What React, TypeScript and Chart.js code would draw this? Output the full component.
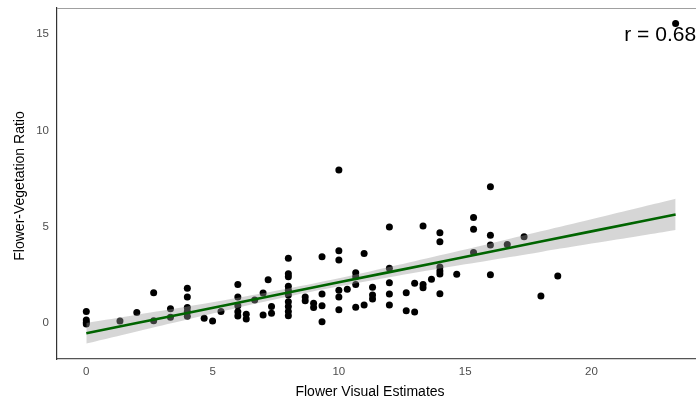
import { useEffect, useRef } from "react";
import { Chart, registerables } from "chart.js";

Chart.register(...registerables);

const flowerEstimates = [
  0, 0, 0, 0,
  1.333, 2, 2.667, 2.667, 3.333, 3.333,
  4, 4, 4, 4, 4,
  4.667, 5, 5.333,
  6, 6, 6, 6, 6,
  6.333, 6.333, 6.667, 7, 7, 7.2, 7.333, 7.333,
  8, 8, 8, 8, 8, 8, 8, 8, 8, 8,
  8.667, 8.667, 9, 9,
  9.333, 9.333, 9.333, 9.333,
  10, 10, 10, 10, 10, 10,
  10.333,
  10.667, 10.667, 10.667, 10.667,
  11, 11,
  11.333, 11.333, 11.333,
  12, 12, 12, 12, 12,
  12.667, 12.667, 13, 13,
  13.333, 13.333, 13.333, 13.667,
  14, 14, 14, 14, 14, 14,
  14.667,
  15.333, 15.333, 15.333,
  16, 16, 16, 16,
  16.667, 17.333, 18, 18.667,
  23.333,
];

const ratios = [
  0.59, 0.16, 0.02, -0.05,
  0.1, 0.55, 1.57, 0.12, 0.74, 0.3,
  1.8, 1.35, 0.8, 0.59, 0.35,
  0.24, 0.1, 0.59,
  2.0, 1.35, 0.9, 0.58, 0.36,
  0.45, 0.2, 1.19, 1.56, 0.41, 2.24, 0.85, 0.5,
  3.36, 2.55, 2.4, 1.9, 1.7, 1.45, 1.1, 0.85, 0.6, 0.38,
  1.35, 1.15, 1.02, 0.8,
  3.44, 1.5, 0.9, 0.07,
  7.94, 3.75, 3.27, 1.7, 1.35, 0.69,
  1.75,
  2.61, 2.4, 2.0, 0.81,
  3.6, 0.93,
  1.85, 1.45, 1.24,
  4.98, 2.84, 2.09, 1.5, 0.93,
  1.57, 0.64, 2.06, 0.57,
  5.03, 2.0, 1.83, 2.27,
  4.68, 4.21, 2.9, 2.7, 2.54, 1.52,
  2.53,
  5.47, 4.86, 3.66,
  7.07, 4.55, 4.05, 2.5,
  4.08, 4.48, 1.4, 2.44,
  15.55,
];

const fitX = [0, 2, 4, 6, 8, 10, 12, 14, 16, 18, 20, 22, 23.333];
const fitY = [-0.535, -0.006, 0.523, 1.052, 1.581, 2.11, 2.639, 3.168, 3.697, 4.226, 4.755, 5.284, 5.636];
const bandLower = [-1.07, -0.44, 0.18, 0.79, 1.37, 1.9, 2.38, 2.83, 3.26, 3.69, 4.12, 4.54, 4.83];
const bandUpper = [0.0, 0.43, 0.86, 1.31, 1.79, 2.32, 2.9, 3.51, 4.13, 4.76, 5.39, 6.02, 6.45];

const xTicks = [0, 5, 10, 15, 20];
const yTicks = [0, 5, 10, 15];

const corrLabel = "r = 0.68";
const corrPos = { x: 21.3, y: 14.95 };
const xTitle = "Flower Visual Estimates";
const yTitle = "Flower-Vegetation Ratio";

const FONT = "'Liberation Sans', Arial, Helvetica, sans-serif";

export default function App() {
  const ref = useRef<HTMLCanvasElement>(null);

  useEffect(() => {
    document.body.style.margin = "0";
    const canvas = ref.current;
    if (!canvas) return;

    const decor = {
      id: "decor",
      afterDraw(chart: any) {
        const { ctx, chartArea: a, scales } = chart;
        ctx.save();
        ctx.strokeStyle = "#a0a0a0";
        ctx.lineWidth = 1.2;
        ctx.beginPath();
        ctx.moveTo(a.left, a.top + 0.5);
        ctx.lineTo(a.right, a.top + 0.5);
        ctx.stroke();

        ctx.fillStyle = "#000";
        ctx.font = `21px ${FONT}`;
        ctx.textAlign = "left";
        ctx.textBaseline = "middle";
        ctx.fillText(corrLabel, scales.x.getPixelForValue(corrPos.x), scales.y.getPixelForValue(corrPos.y));

        ctx.font = `14px ${FONT}`;
        ctx.textAlign = "center";
        ctx.textBaseline = "middle";
        ctx.fillText(xTitle, 370, 392);
        ctx.translate(20, 186);
        ctx.rotate(-Math.PI / 2);
        ctx.fillText(yTitle, 0, 0);
        ctx.restore();
      },
    };

    const zeroPad = (s: any) => {
      s.paddingTop = 0;
      s.paddingBottom = 0;
      s.paddingLeft = 0;
      s.paddingRight = 0;
    };

    const chart = new Chart(canvas, {
      type: "scatter",
      data: {
        datasets: [
          {
            label: "points",
            data: flowerEstimates.map((x, i) => ({ x, y: ratios[i] })),
            backgroundColor: "#000",
            borderWidth: 0,
            pointRadius: 3.5,
            order: 3,
          },
          {
            label: "lower",
            data: fitX.map((x, i) => ({ x, y: bandLower[i] })),
            showLine: true,
            borderWidth: 0,
            borderColor: "rgba(0,0,0,0)",
            pointRadius: 0,
            tension: 0.4,
            fill: false,
            order: 2,
          },
          {
            label: "upper",
            data: fitX.map((x, i) => ({ x, y: bandUpper[i] })),
            showLine: true,
            borderWidth: 0,
            borderColor: "rgba(0,0,0,0)",
            pointRadius: 0,
            tension: 0.4,
            fill: { target: 1 },
            backgroundColor: "rgba(153,153,153,0.4)",
            order: 2,
          },
          {
            label: "fit",
            data: fitX.map((x, i) => ({ x, y: fitY[i] })),
            showLine: true,
            borderColor: "#006400",
            borderWidth: 2.6,
            pointRadius: 0,
            fill: false,
            order: 1,
          },
        ],
      },
      options: {
        animation: false,
        responsive: false,
        layout: { autoPadding: false, padding: { top: 8, left: 0, right: 0, bottom: 0 } },
        plugins: { legend: { display: false }, tooltip: { enabled: false } },
        scales: {
          x: {
            type: "linear",
            min: -1.16,
            max: 24.14,
            afterBuildTicks: (s: any) => {
              s.ticks = xTicks.map((v) => ({ value: v }));
            },
            afterFit: (s: any) => {
              s.height = 43;
              zeroPad(s);
            },
            grid: { display: false, drawTicks: false },
            border: { display: true, color: "#555555", width: 1.2 },
            ticks: {
              font: { family: FONT, size: 11.5 },
              color: "#4d4d4d",
              padding: 6,
              maxRotation: 0,
            },
          },
          y: {
            type: "linear",
            min: -1.87,
            max: 16.35,
            afterBuildTicks: (s: any) => {
              s.ticks = yTicks.map((v) => ({ value: v }));
            },
            afterFit: (s: any) => {
              s.width = 57;
              zeroPad(s);
            },
            grid: { display: false, drawTicks: false },
            border: { display: true, color: "#333333", width: 1.2 },
            ticks: {
              font: { family: FONT, size: 11.5 },
              color: "#4d4d4d",
              padding: 8,
            },
          },
        },
      },
      plugins: [decor],
    });

    return () => chart.destroy();
  }, []);

  return (
    <div style={{ width: 696, height: 402, background: "#fff" }}>
      <canvas ref={ref} width={696} height={402} style={{ display: "block" }} />
    </div>
  );
}
